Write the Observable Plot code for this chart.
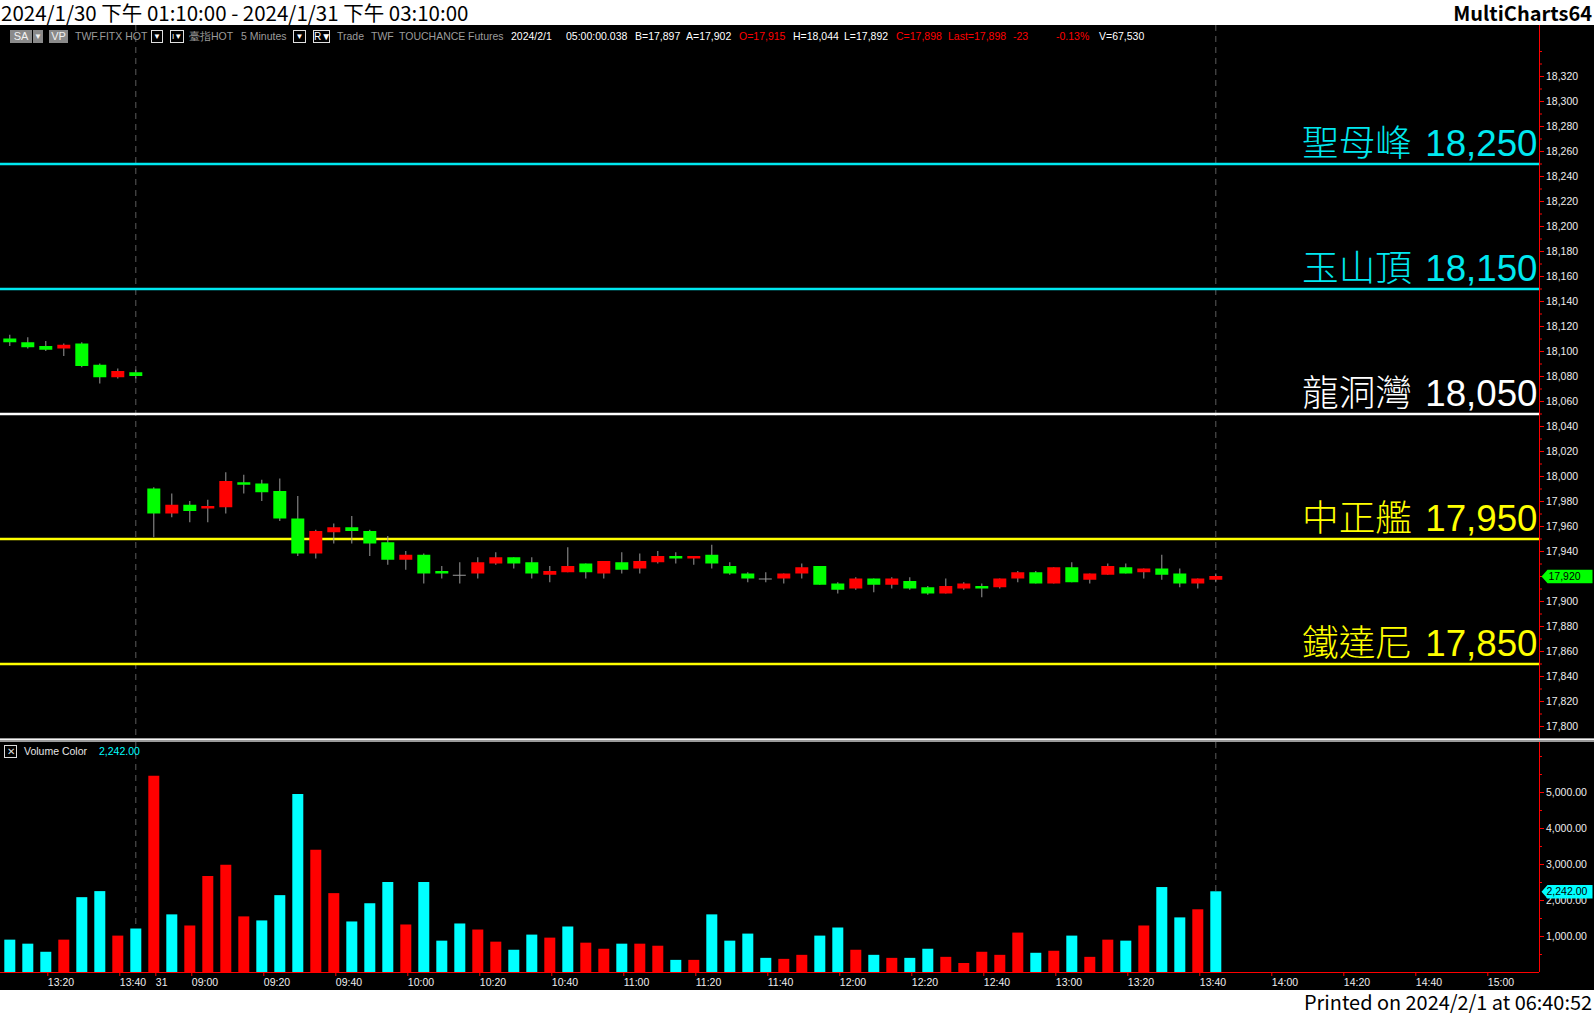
<!DOCTYPE html>
<html>
<head>
<meta charset="utf-8">
<script src="https://cdn.jsdelivr.net/npm/d3@7"></script>
<script src="https://cdn.jsdelivr.net/npm/@observablehq/plot@0.6"></script>
<style>
  html, body { margin:0; padding:0; background:#fff; }
  body { width:1594px; height:1013px; position:relative; overflow:hidden; font-family:"Liberation Sans", Arial, sans-serif; }
  #title { position:absolute; left:0; top:0; width:1594px; height:25px; font-family:"Noto Sans CJK TC","Noto Sans",sans-serif; font-size:20.5px; line-height:25px; color:#000; }
  #title .l { position:absolute; left:1px; top:0; white-space:nowrap; }
  #title .r { position:absolute; right:2px; top:0; font-weight:bold; white-space:nowrap; font-size:20px; }
  #stage { position:absolute; left:0; top:25px; width:1594px; height:965px; background:#000; }
  #price { position:absolute; left:0; top:25px; }
  #vol { position:absolute; left:0; top:740px; }
  #divider { position:absolute; left:0; top:738px; width:1594px; height:1px; background:#9a9a9a; border-bottom:1px solid #f4f4f4; box-shadow:0 2px 0 #9a9a9a; }
  .tb { position:absolute; top:30px; height:13px; line-height:13px; font-size:10.5px; white-space:nowrap; }
  .g { color:#9c9c9c; } .w { color:#ffffff; } .rd { color:#ff0000; }
  .btn { background:#8a8a8a; color:#f2f2f2; text-align:center; font-size:11px; }
  .dd { border:1px solid #e0e0e0; box-sizing:border-box; color:#fff; text-align:center; font-size:8px; line-height:11px; }
  #legend .box { position:absolute; left:4px; top:745px; width:13px; height:13px; border:1px solid #dcdcdc; box-sizing:border-box; color:#dcdcdc; font-size:10px; line-height:11px; text-align:center; }
  #legend .t { position:absolute; top:745px; height:13px; line-height:13px; font-size:10.5px; white-space:nowrap; }
  #footer { position:absolute; right:2px; top:990px; height:23px; line-height:23px; font-family:"Noto Sans CJK TC","Noto Sans",sans-serif; font-size:19.9px; color:#000; white-space:nowrap; }
</style>
</head>
<body>
<div id="title"><span class="l">2024/1/30 下午 01:10:00 - 2024/1/31 下午 03:10:00</span><span class="r">MultiCharts64</span></div>
<div id="stage"></div>
<div id="price"></div>
<div id="vol"></div>
<div id="divider"></div>
<div id="toolbar">
  <div class="tb btn" style="left:10px;width:22px;">SA</div>
  <div class="tb btn" style="left:33px;width:10px;font-size:8px;">▼</div>
  <div class="tb btn" style="left:49px;width:19px;">VP</div>
  <div class="tb g" style="left:75px;">TWF.FITX HOT</div>
  <div class="tb dd" style="left:151px;width:12px;">▼</div>
  <div class="tb dd" style="left:170px;width:14px;">I▼</div>
  <div class="tb g" style="left:189px;">臺指HOT</div>
  <div class="tb g" style="left:241px;">5 Minutes</div>
  <div class="tb dd" style="left:293px;width:13px;">▼</div>
  <div class="tb dd" style="left:313px;width:17px;font-size:10px;">R▼</div>
  <div class="tb g" style="left:337px;">Trade</div>
  <div class="tb g" style="left:371px;">TWF</div>
  <div class="tb g" style="left:399px;">TOUCHANCE</div>
  <div class="tb g" style="left:468px;">Futures</div>
  <div class="tb w" style="left:511px;">2024/2/1</div>
  <div class="tb w" style="left:566px;">05:00:00.038</div>
  <div class="tb w" style="left:635px;">B=17,897</div>
  <div class="tb w" style="left:686px;">A=17,902</div>
  <div class="tb rd" style="left:739px;">O=17,915</div>
  <div class="tb w" style="left:793px;">H=18,044</div>
  <div class="tb w" style="left:844px;">L=17,892</div>
  <div class="tb rd" style="left:896px;">C=17,898</div>
  <div class="tb rd" style="left:948px;">Last=17,898</div>
  <div class="tb rd" style="left:1013px;">-23</div>
  <div class="tb rd" style="left:1056px;">-0.13%</div>
  <div class="tb w" style="left:1099px;">V=67,530</div>
</div>
<div id="legend">
  <div class="box">✕</div>
  <div class="t" style="left:24px;color:#e6e6e6;">Volume Color</div>
  <div class="t" id="legendVal" style="left:99px;color:#00ffff;"></div>
</div>
<div id="footer">Printed on 2024/2/1 at 06:40:52</div>

<script>
// ---------------- DATA ----------------
// 5-minute bars: 2024/1/30 13:10–13:45 (8 bars), 2024/1/31 08:50–13:45 (60 bars)
const day1Bars = 8;
const opens  = [18110,18107,18104,18102,18106,18089,18079,18083,
  17990,17970,17977,17974,17975,17995,17994,17988,17966,17938,17955,17959,17956,17947,17933,17937,17924,17921,
  17922,17930,17935,17931,17921,17923,17930,17922,17931,17926,17931,17936,17934,17937,17928,17922,17918,17918,
  17922,17928,17914,17910,17918,17913,17916,17911,17906,17910,17912,17911,17918,17923,17914,17927,17917,17921,
  17927,17923,17926,17922,17914,17917];
const highs  = [18113,18111,18108,18106,18107,18090,18086,18085,
  17991,17986,17980,17981,18003,18001,17997,17998,17984,17957,17962,17968,17957,17952,17940,17938,17928,17931,
  17935,17939,17935,17935,17928,17943,17930,17932,17939,17938,17940,17939,17936,17945,17931,17923,17923,17922,
  17930,17928,17915,17919,17918,17919,17919,17912,17918,17915,17914,17918,17924,17924,17927,17931,17922,17930,
  17930,17926,17937,17926,17918,17922];
const lows   = [18104,18102,18100,18096,18087,18074,18078,18078,
  17951,17967,17963,17963,17970,17986,17980,17964,17936,17934,17946,17946,17936,17929,17925,17914,17918,17914,
  17918,17929,17926,17918,17915,17923,17918,17918,17922,17922,17930,17930,17929,17926,17921,17915,17915,17914,
  17918,17913,17906,17909,17907,17910,17909,17905,17906,17909,17903,17910,17915,17914,17914,17915,17914,17921,
  17922,17918,17917,17911,17910,17915];
const closes = [18107,18103,18101,18105,18088,18079,18084,18080,
  17970,17977,17972,17976,17996,17993,17987,17966,17938,17956,17959,17956,17946,17933,17937,17922,17922,17921,
  17931,17935,17930,17922,17924,17928,17923,17932,17925,17932,17936,17934,17936,17930,17922,17918,17918,17922,
  17927,17913,17909,17918,17913,17918,17910,17906,17912,17914,17910,17918,17923,17914,17927,17915,17922,17928,
  17922,17926,17921,17914,17918,17920];
const volumes = [899,787,562,899,2079,2247,1011,1208,
  5449,1601,1292,2669,2978,1545,1433,2135,4944,3399,2191,1404,1910,2500,1320,2500,871,1348,
  1180,843,618,1039,955,1264,815,646,787,787,730,337,337,1601,871,1067,393,365,
  477,1011,1236,618,477,393,393,646,421,250,562,477,1095,534,590,1011,421,899,
  871,1292,2360,1517,1742,2242];
// volume tone: "dn" drawn cyan, "up" drawn red
const volumeTone = ["dn","dn","dn","up","dn","dn","up","dn",
  "up","dn","up","up","up","up","dn","dn","dn","up","up","dn","dn","dn","up","dn","dn","dn",
  "up","up","dn","dn","up","dn","up","up","dn","up","up","dn","up","dn","dn","dn","dn","up",
  "up","dn","dn","up","dn","up","dn","dn","up","up","up","up","up","dn","up","dn","up","up",
  "dn","up","dn","dn","up","dn"];
// horizontal reference levels
const levelNames  = ["聖母峰","玉山頂","龍洞灣","中正艦","鐵達尼"];
const levelPrices = [18250, 18150, 18050, 17950, 17850];
// time axis (bar slot index → label)
const xTickSlots  = [2,6,8,10,14,18,22,26,30,34,38,42,46,50,54,58,62,66,70,74,78,82];
const xTickLabels = ["13:20","13:40","31","09:00","09:20","09:40","10:00","10:20","10:40","11:00","11:20",
  "11:40","12:00","12:20","12:40","13:00","13:20","13:40","14:00","14:20","14:40","15:00"];
const priceTickLabels = d3.range(17800, 18321, 20);
const priceMinorTicks = d3.range(17800, 18341, 10);
const volTickLabels = [1000, 2000, 3000, 4000, 5000];
const volMinorTicks = d3.range(500, 6001, 500);

// ---------------- STYLE / LAYOUT ----------------
const levelColors = ["#00e8f0", "#00e8f0", "#ffffff", "#ffff00", "#ffff00"];
const UP = "#ff0000", DOWN = "#00ff00", CYAN = "#00ffff", WICK = "#9a9a9a";
const W = 1594, slotPx = 18, firstCenter = 9.3, plotRight = 1539;
const xMin = -firstCenter / slotPx;
const xMax = xMin + plotRight / slotPx;
const fmtInt = d3.format(",");
const fmtVol = d3.format(",.2f");
const font = "'Liberation Sans', Arial, sans-serif";

const candles = opens.map((o, i) => ({i, open: o, high: highs[i], low: lows[i], close: closes[i]}));
const vols = volumes.map((v, i) => ({i, v, tone: volumeTone[i]}));
const levels = levelNames.map((n, k) => ({name: n, price: levelPrices[k], color: levelColors[k]}));
const sessionEnds = [day1Bars - 1, opens.length - 1];
const tickLabelBySlot = new Map(xTickSlots.map((s, k) => [s, xTickLabels[k]]));
const lastClose = closes[closes.length - 1];
const lastVol = volumes[volumes.length - 1];
document.getElementById("legendVal").textContent = fmtVol(lastVol);

function tagShape(val, halfH) {
  return [
    [xMax + 2 / slotPx, val],
    [xMax + 8 / slotPx, val + halfH],
    [xMax + 53 / slotPx, val + halfH],
    [xMax + 53 / slotPx, val - halfH],
    [xMax + 8 / slotPx, val - halfH]
  ];
}

// ---------------- PRICE PANE ----------------
const pricePlot = Plot.plot({
  width: W, height: 715,
  marginLeft: 0, marginRight: W - plotRight, marginTop: 20, marginBottom: 1,
  style: {background: "#000", color: "#eeeeee", fontFamily: font, fontSize: "10.5px", overflow: "visible"},
  x: {type: "linear", domain: [xMin, xMax], axis: null, label: null},
  y: {domain: [17789.6, 18344.8], label: null},
  color: {type: "identity"},
  marks: [
    Plot.ruleX(sessionEnds, {x: d => d, stroke: "#5c5c5c", strokeDasharray: "6,5", insetTop: -20}),
    Plot.ruleY(levels, {y: "price", stroke: "color", strokeWidth: 2.6}),
    Plot.text(levels, {x: xMax, y: "price", text: d => `${d.name} \u200A${fmtInt(d.price)}`, fill: "color",
      textAnchor: "end", lineAnchor: "bottom", dx: -2, dy: -8, fontSize: 36.7, fontWeight: 300,
      fontFamily: "'Liberation Sans', 'Noto Sans CJK TC', sans-serif"}),
    Plot.ruleX(candles, {x: "i", y1: "low", y2: "high", stroke: WICK}),
    Plot.ruleX(candles.filter(d => d.open !== d.close), {x: "i", y1: "open", y2: "close",
      stroke: d => d.close > d.open ? UP : DOWN, strokeWidth: 13}),
    Plot.ruleY(candles.filter(d => d.open === d.close), {y: "close",
      x1: d => d.i - 6.5 / slotPx, x2: d => d.i + 6.5 / slotPx, stroke: WICK}),
    Plot.ruleX([xMax], {stroke: "#ff0000", insetTop: -20, insetBottom: -1}),
    Plot.axisY(priceMinorTicks, {anchor: "right", tickSize: 2, tickFormat: () => "", stroke: "#ff0000", label: null}),
    Plot.axisY(priceTickLabels, {anchor: "right", tickSize: 4, tickPadding: 2.5, tickFormat: fmtInt,
      stroke: "#ff0000", fill: "#eeeeee", fontSize: 10.5, label: null}),
    Plot.line(tagShape(lastClose, 5.4), {x: d => d[0], y: d => d[1], fill: "#00ff00", stroke: "none", curve: "linear-closed"}),
    Plot.text([lastClose], {x: xMax + 9 / slotPx, y: d => d, text: d => fmtInt(d), textAnchor: "start", fill: "#000", fontSize: 10.5})
  ]
});
document.getElementById("price").append(pricePlot);

// ---------------- VOLUME PANE ----------------
const volPlot = Plot.plot({
  width: W, height: 250,
  marginLeft: 0, marginRight: W - plotRight, marginTop: 2, marginBottom: 18,
  style: {background: "#000", color: "#eeeeee", fontFamily: font, fontSize: "10.5px", overflow: "visible"},
  x: {type: "linear", domain: [xMin, xMax], label: null},
  y: {domain: [0, 6389], label: null},
  color: {type: "identity"},
  marks: [
    Plot.ruleX(sessionEnds, {x: d => d, stroke: "#5c5c5c", strokeDasharray: "6,5"}),
    Plot.ruleX(vols, {x: "i", y1: 0, y2: "v", stroke: d => d.tone === "up" ? UP : CYAN, strokeWidth: 11}),
    Plot.ruleY([0], {stroke: "#ff0000"}),
    Plot.ruleX([xMax], {stroke: "#ff0000", insetTop: -2}),
    Plot.axisY(volMinorTicks, {anchor: "right", tickSize: 2, tickFormat: () => "", stroke: "#ff0000", label: null}),
    Plot.axisY(volTickLabels, {anchor: "right", tickSize: 4, tickPadding: 2.5, tickFormat: fmtVol,
      stroke: "#ff0000", fill: "#eeeeee", fontSize: 10.5, label: null}),
    Plot.axisX(xTickSlots, {anchor: "bottom", tickSize: 4, tickPadding: 2, tickFormat: d => tickLabelBySlot.get(d),
      textAnchor: "start", dx: 2, stroke: "#ff0000", fill: "#eeeeee", fontSize: 10.5, label: null}),
    Plot.line(tagShape(lastVol, 186), {x: d => d[0], y: d => d[1], fill: CYAN, stroke: "none", curve: "linear-closed"}),
    Plot.text([lastVol], {x: xMax + 7 / slotPx, y: d => d, text: d => fmtVol(d), textAnchor: "start", fill: "#000", fontSize: 10.5})
  ]
});
document.getElementById("vol").append(volPlot);
</script>
</body>
</html>
